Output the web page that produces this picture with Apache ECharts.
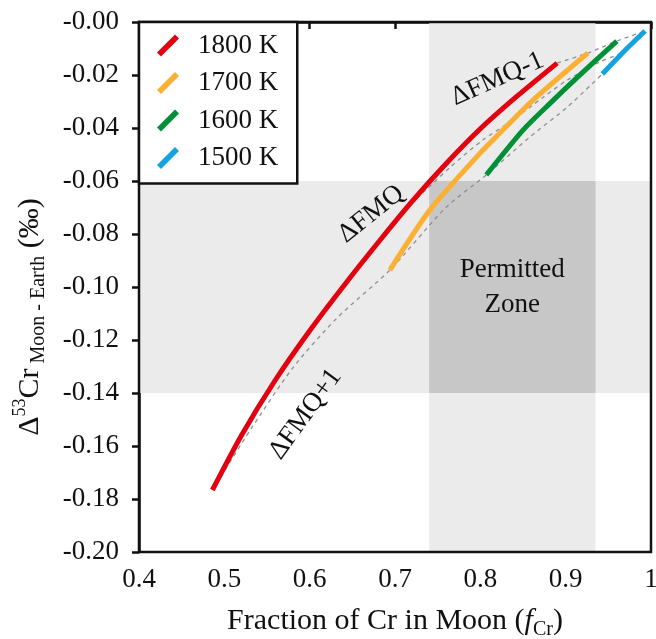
<!DOCTYPE html>
<html><head><meta charset="utf-8">
<script src="https://cdn.jsdelivr.net/npm/echarts@6/dist/echarts.min.js"></script>
<style>html,body{margin:0;padding:0;background:#fff}#c{width:656px;height:639px}</style>
</head><body><div id="c"></div>
<script>
// ---- data ----
const seriesNames = ['1800 K', '1700 K', '1600 K', '1500 K'];
const seriesColors = ['#e3000f', '#fbb034', '#009036', '#12a3e0'];
const curve1800 = [[0.486,-0.1766],[0.520,-0.1560],[0.560,-0.1350],[0.600,-0.1165],[0.640,-0.0995],[0.680,-0.0833],[0.720,-0.0677],[0.760,-0.0534],[0.800,-0.0403],[0.843,-0.0280],[0.890,-0.0155]];
const curve1700 = [[0.694,-0.0936],[0.741,-0.0709],[0.800,-0.0494],[0.823,-0.0419],[0.862,-0.0294],[0.926,-0.0117]];
const curve1600 = [[0.807,-0.0577],[0.850,-0.0408],[0.882,-0.0306],[0.913,-0.0211],[0.960,-0.0072]];
const curve1500 = [[0.943,-0.0196],[0.968,-0.0112],[0.993,-0.0034]];
const fmqMinus1 = [[0.890,-0.0155],[0.926,-0.0117],[0.960,-0.0072],[0.993,-0.0034]];
const fmqZero = [[0.712,-0.0708],[0.765,-0.0547],[0.803,-0.0445],[0.835,-0.0377],[0.874,-0.0283],[0.902,-0.0219],[0.940,-0.0151],[0.968,-0.0112],[0.993,-0.0034]];
const fmqPlus1 = [[0.486,-0.1766],[0.532,-0.1532],[0.580,-0.1306],[0.632,-0.1117],[0.694,-0.0936],[0.759,-0.0702],[0.807,-0.0577],[0.858,-0.0434],[0.902,-0.0321],[0.943,-0.0196]];
const zoneX = [0.74, 0.935];
const zoneY = [-0.14, -0.06];
const xRange = [0.4, 1.0];
const yRange = [-0.20, 0.0];
const annotations = [
  { text: 'ΔFMQ-1', at: [0.820, -0.0215], angle: 24 },
  { text: 'ΔFMQ', at: [0.672, -0.0725], angle: 39 },
  { text: 'ΔFMQ+1', at: [0.595, -0.148], angle: 54 }
];
const zoneLabel = 'Permitted\nZone';
// ----------------

const FONT = 'Liberation Serif, Times New Roman, serif';
const chart = echarts.init(document.getElementById('c'), null, { renderer: 'canvas' });
const curves = [curve1800, curve1700, curve1600, curve1500];
const dashedSets = [fmqMinus1, fmqZero, fmqPlus1];
const legendIcon = 'path://M0,18 L18,0 L22,4 L4,22 Z';

const series = [];
series.push({
  type: 'line', name: 'zones', data: [], z: 1, silent: true,
  markArea: {
    silent: true,
    data: [
      [{ xAxis: zoneX[0], yAxis: yRange[0], itemStyle: { color: '#ebebeb' } }, { xAxis: zoneX[1], yAxis: yRange[1] }],
      [{ xAxis: xRange[0], yAxis: zoneY[0], itemStyle: { color: '#ebebeb' } }, { xAxis: xRange[1], yAxis: zoneY[1] }],
      [{ xAxis: zoneX[0], yAxis: zoneY[0], itemStyle: { color: '#c6c7c6' },
         label: { show: true, position: 'inside', formatter: zoneLabel, color: '#111', fontFamily: FONT, fontSize: 27, lineHeight: 35 } },
       { xAxis: zoneX[1], yAxis: zoneY[1] }]
    ]
  }
});
dashedSets.forEach((d, i) => {
  series.push({
    type: 'line', name: 'fmq' + i, data: d, smooth: 0.25, showSymbol: false, z: 2, silent: true,
    lineStyle: { color: '#8f8f8f', width: 1.3, type: [4, 4] }
  });
});
curves.forEach((d, i) => {
  series.push({
    type: 'line', name: seriesNames[i], data: d, smooth: 0.25, showSymbol: false, z: 3,
    itemStyle: { color: seriesColors[i] },
    lineStyle: { color: seriesColors[i], width: 5, cap: 'butt' }
  });
});

chart.setOption({
  animation: false,
  backgroundColor: '#fff',
  grid: { left: 139, right: 5, top: 22, bottom: 87, outerBoundsMode: 'none', containLabel: false,
    show: true, borderColor: '#111', borderWidth: 2.5, backgroundColor: 'transparent', z: 10 },
  xAxis: {
    type: 'value', min: xRange[0], max: xRange[1], interval: 0.1,
    axisLine: { show: true, lineStyle: { color: '#111', width: 2.5 } },
    axisTick: { show: true, inside: false, length: 7, lineStyle: { color: '#111', width: 2.5 } },
    axisLabel: { color: '#111', fontFamily: FONT, fontSize: 27, margin: 14,
      formatter: v => (Math.abs(v - 1) < 1e-9 ? '1' : v.toFixed(1)) },
    splitLine: { show: false }
  },
  yAxis: {
    type: 'value', min: yRange[0], max: yRange[1], interval: 0.02,
    axisLine: { show: true, lineStyle: { color: '#111', width: 2.5 } },
    axisTick: { show: true, inside: false, length: 7, lineStyle: { color: '#111', width: 2.5 } },
    axisLabel: { color: '#111', fontFamily: FONT, fontSize: 27, margin: 20,
      formatter: v => '-' + Math.abs(v).toFixed(2) },
    splitLine: { show: false }
  },
  legend: {
    orient: 'vertical', left: 139, top: 22,
    data: seriesNames.map(n => ({ name: n, icon: legendIcon })),
    itemWidth: 22, itemHeight: 22, itemGap: 10.5,
    padding: [10, 19, 12, 18],
    borderColor: '#111', borderWidth: 2.5, backgroundColor: '#fff',
    textStyle: { color: '#111', fontFamily: FONT, fontSize: 27, padding: [0, 0, 0, 14] },
    selectedMode: false, z: 20
  },
  series: series
});

const gfx = annotations.map(a => {
  const p = chart.convertToPixel({ gridIndex: 0 }, a.at);
  return {
    type: 'text', x: p[0], y: p[1], rotation: a.angle * Math.PI / 180, z: 30,
    style: { text: a.text, fill: '#111', font: '27px ' + FONT, align: 'center', verticalAlign: 'middle' }
  };
});
gfx.push({
  type: 'text', x: 30, y: 317, rotation: Math.PI / 2, z: 30,
  style: {
    text: '{m|Δ}{sup|53}{m|Cr}{sub| Moon - Earth}{m| (‰)}',
    align: 'center', verticalAlign: 'middle',
    rich: {
      m: { fontFamily: FONT, fontSize: 30, fill: '#111', verticalAlign: 'middle', lineHeight: 38 },
      sup: { fontFamily: FONT, fontSize: 18, fill: '#111', verticalAlign: 'top', lineHeight: 38 },
      sub: { fontFamily: FONT, fontSize: 20, fill: '#111', verticalAlign: 'bottom', lineHeight: 38 }
    }
  }
});
gfx.push({
  type: 'text', x: 395, y: 621, z: 30,
  style: {
    text: '{m|Fraction of Cr in Moon (}{i|f}{sub|Cr}{m|)}',
    align: 'center', verticalAlign: 'middle',
    rich: {
      m: { fontFamily: FONT, fontSize: 30, fill: '#111', verticalAlign: 'middle', lineHeight: 38 },
      i: { fontFamily: FONT, fontSize: 30, fontStyle: 'italic', fill: '#111', verticalAlign: 'middle', lineHeight: 38 },
      sub: { fontFamily: FONT, fontSize: 20, fill: '#111', verticalAlign: 'bottom', lineHeight: 38 }
    }
  }
});
chart.setOption({ graphic: { elements: gfx } });
</script>
</body></html>
